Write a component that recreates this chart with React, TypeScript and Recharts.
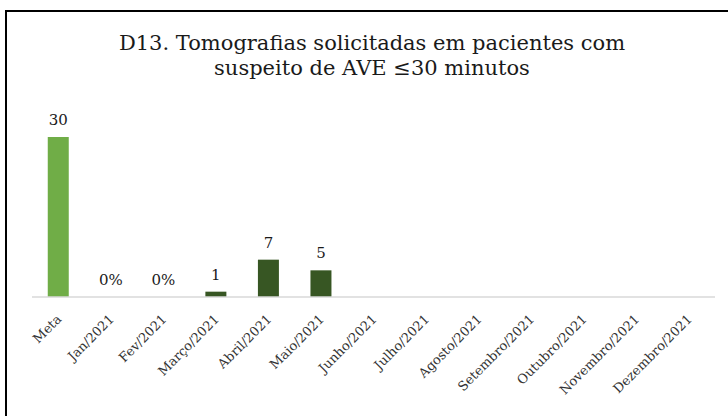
import { Bar, BarChart, Cell, LabelList, XAxis, YAxis } from "recharts";

const categories = [
  "Meta", "Jan/2021", "Fev/2021", "Março/2021", "Abril/2021", "Maio/2021", "Junho/2021",
  "Julho/2021", "Agosto/2021", "Setembro/2021", "Outubro/2021", "Novembro/2021", "Dezembro/2021",
];
const values = [30, 0, 0, 1, 7, 5, null, null, null, null, null, null, null];
const labels = ["30", "0%", "0%", "1", "7", "5", "", "", "", "", "", "", ""];
const titleLines = ["D13. Tomografias solicitadas em pacientes com", "suspeito de AVE ≤30 minutos"];

const META_GREEN = "#70ad47";
const MONTH_GREEN = "#375623";
const SERIF = "DejaVu Serif, serif";

const data = categories.map((name, i) => ({ name, value: values[i], label: labels[i] }));

function SlantTick({ x, y, payload }: any) {
  return (
    <text
      transform={`translate(${x + 4},${y + 15}) rotate(-45)`}
      textAnchor="end"
      style={{ fontFamily: SERIF }}
      fontSize={13}
      fill="#333"
    >
      {payload.value}
    </text>
  );
}

export default function App() {
  return (
    <div style={{ position: "absolute", left: 0, top: 0, width: 728, height: 416, background: "#fff" }}>
      <div
        style={{
          position: "absolute", left: 5, top: 10, width: 723, height: 406,
          borderLeft: "2.5px solid #000", borderTop: "2.5px solid #000", boxSizing: "border-box",
        }}
      />
      <svg style={{ position: "absolute", left: 0, top: 0 }} width={728} height={100}>
        {titleLines.map((t, i) => (
          <text
            key={i}
            x={372}
            y={50 + i * 25}
            textAnchor="middle"
            style={{ fontFamily: SERIF }}
            fontSize={21}
            fill="#1a1a1a"
          >
            {t}
          </text>
        ))}
      </svg>
      <div style={{ position: "absolute", left: 0, top: 0 }}>
        <BarChart
          width={728}
          height={416}
          data={data}
          margin={{ top: 137, right: 13, left: 32, bottom: 0 }}
          barCategoryGap="30%"
        >
          <XAxis
            dataKey="name"
            interval={0}
            height={119}
            tickLine={false}
            axisLine={{ stroke: "#d9d9d9", strokeWidth: 1.5 }}
            tick={<SlantTick />}
          />
          <YAxis hide domain={[0, 30]} />
          <Bar
            dataKey="value"
            isAnimationActive={false}
            minPointSize={(v: any) => (v === 0 ? 0.01 : 0)}
          >
            {data.map((_, i) => (
              <Cell key={i} fill={i === 0 ? META_GREEN : MONTH_GREEN} />
            ))}
            <LabelList
              dataKey="label"
              position="top"
              offset={12}
              style={{ fontFamily: SERIF }}
              fontSize={15}
              fill="#1a1a1a"
            />
          </Bar>
        </BarChart>
      </div>
    </div>
  );
}
